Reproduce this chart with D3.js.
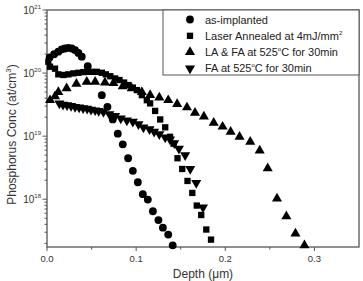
<!DOCTYPE html>
<html>
<head>
<meta charset="utf-8">
<script src="https://cdn.jsdelivr.net/npm/d3@7"></script>
<style>
  body { margin: 0; background: #fff; }
  text { font-family: Arial, "Liberation Sans", sans-serif; }
</style>
</head>
<body>
<script>
// depth in um, concentration as log10(at/cm3)
var asImplanted = [
  [0.003, 20.25], [0.008, 20.3], [0.0127, 20.34], [0.0165, 20.376], [0.0202, 20.39],
  [0.024, 20.40], [0.0278, 20.39], [0.0315, 20.365], [0.0352, 20.32], [0.039, 20.26],
  [0.0457, 20.11], [0.0615, 19.65], [0.0678, 19.465], [0.0738, 19.265], [0.0794, 19.04],
  [0.085, 18.87], [0.091, 18.65], [0.0963, 18.45], [0.1019, 18.27], [0.1075, 18.08],
  [0.1131, 17.995], [0.1188, 17.81], [0.125, 17.67], [0.13, 17.55], [0.136, 17.44],
  [0.141, 17.27]
];
var laserAnnealed = [
  [0.0015, 20.18], [0.0034, 20.1], [0.009, 20.07], [0.0127, 19.98], [0.0184, 19.97],
  [0.024, 19.98], [0.0296, 19.995], [0.0352, 20.005], [0.0408, 20.016], [0.0453, 20.02],
  [0.05, 20.02], [0.0558, 20.02], [0.0615, 20.005], [0.066, 19.98], [0.071, 19.95],
  [0.0764, 19.915], [0.0813, 19.89], [0.0865, 19.85], [0.0914, 19.81], [0.0963, 19.77],
  [0.1008, 19.73], [0.1064, 19.65], [0.112, 19.57], [0.1157, 19.52], [0.1213, 19.40],
  [0.127, 19.265], [0.1326, 19.14], [0.138, 18.99], [0.142, 18.88], [0.1464, 18.65],
  [0.1517, 18.48], [0.1576, 18.29], [0.163, 18.10], [0.168, 17.90], [0.173, 17.75],
  [0.1787, 17.52], [0.184, 17.36]
];
var laFa = [
  [0.0034, 19.57], [0.009, 19.63], [0.0127, 19.70], [0.022, 19.76], [0.033, 19.83],
  [0.0446, 19.86], [0.054, 19.86], [0.065, 19.85], [0.0745, 19.84], [0.085, 19.79],
  [0.095, 19.76], [0.1064, 19.70], [0.1157, 19.65], [0.126, 19.61], [0.136, 19.57],
  [0.146, 19.51], [0.157, 19.455], [0.166, 19.37], [0.176, 19.31], [0.187, 19.21],
  [0.197, 19.15], [0.206, 19.07], [0.216, 18.99], [0.228, 18.91], [0.2386, 18.77],
  [0.2476, 18.49], [0.258, 18.01], [0.2685, 17.73], [0.2787, 17.455], [0.2888, 17.27]
];
var furnaceAnnealed = [
  [0.0139, 19.52], [0.018, 19.50], [0.0225, 19.49], [0.027, 19.48], [0.0315, 19.465],
  [0.036, 19.455], [0.0405, 19.445], [0.045, 19.435], [0.0494, 19.42], [0.054, 19.41],
  [0.058, 19.40], [0.0633, 19.385], [0.07, 19.35], [0.0764, 19.32], [0.0828, 19.28],
  [0.0896, 19.25], [0.0963, 19.23], [0.1026, 19.19], [0.1082, 19.14], [0.115, 19.11],
  [0.1202, 19.07], [0.126, 19.03], [0.1326, 18.98], [0.138, 18.95], [0.1427, 18.89],
  [0.148, 18.80], [0.155, 18.70], [0.1607, 18.48], [0.1674, 18.26], [0.175, 17.87]
];
var xTicks = [0.0, 0.1, 0.2, 0.3];
var xMinor = [0.05, 0.15, 0.25];
var yDecades = [18, 19, 20, 21];
var legendNames = ["as-implanted", "Laser Annealed at 4mJ/mm", "LA & FA at 525", "FA at 525"];

drawChart();

function drawChart(){
  var width = 363, height = 281;
  var mLeft = 47, mRight = 359, mTop = 10, mBottom = 247;

  var svg = d3.select("body").append("svg")
      .attr("width", width)
      .attr("height", height);

  var x = d3.scaleLinear().domain([0, 0.35]).range([mLeft, mRight]);
  var y = d3.scaleLog().domain([1.75e17, 1e21]).range([mBottom, mTop]);

  // frame
  svg.append("rect")
      .attr("x", mLeft).attr("y", mTop)
      .attr("width", mRight - mLeft).attr("height", mBottom - mTop)
      .attr("fill", "none").attr("stroke", "#555").attr("stroke-width", 1.3);

  // x axis
  var xAxis = svg.append("g").attr("transform", "translate(0," + mBottom + ")");
  xAxis.selectAll(".maj").data(xTicks).enter().append("line")
      .attr("x1", d => x(d)).attr("x2", d => x(d))
      .attr("y1", 0).attr("y2", 4)
      .attr("stroke", "#555");
  xAxis.selectAll(".mnr").data(xMinor).enter().append("line")
      .attr("x1", d => x(d)).attr("x2", d => x(d))
      .attr("y1", 0).attr("y2", 2.5)
      .attr("stroke", "#555");
  xAxis.selectAll("text").data(xTicks).enter().append("text")
      .attr("x", d => x(d)).attr("y", 15)
      .attr("text-anchor", "middle")
      .attr("font-size", 9.5).attr("fill", "#333")
      .text(d => d3.format(".1f")(d));

  // y axis
  var yAxis = svg.append("g");
  var minors = [];
  yDecades.forEach(function(e){
    for (var m = 2; m < 10; m++) minors.push(m * Math.pow(10, e - 1));
  });
  minors = minors.filter(v => v >= y.domain()[0]);
  yAxis.selectAll(".mnr").data(minors).enter().append("line")
      .attr("x1", mLeft - 2.5).attr("x2", mLeft)
      .attr("y1", d => y(d)).attr("y2", d => y(d))
      .attr("stroke", "#555");
  yAxis.selectAll(".maj").data(yDecades).enter().append("line")
      .attr("x1", mLeft - 4.5).attr("x2", mLeft)
      .attr("y1", d => y(Math.pow(10, d))).attr("y2", d => y(Math.pow(10, d)))
      .attr("stroke", "#555");
  var yl = yAxis.selectAll("text").data(yDecades).enter().append("text")
      .attr("x", mLeft - 6).attr("y", d => y(Math.pow(10, d)) + 3.5)
      .attr("text-anchor", "end")
      .attr("font-size", 10).attr("fill", "#333");
  yl.append("tspan").text("10");
  yl.append("tspan").attr("dy", -4.5).attr("font-size", 6).text(d => d);

  // axis titles
  svg.append("text")
      .attr("x", (mLeft + mRight) / 2).attr("y", 278)
      .attr("text-anchor", "middle")
      .attr("font-size", 12).attr("fill", "#333")
      .text("Depth (\u03bcm)");
  var yt = svg.append("text")
      .attr("transform", "translate(16," + ((mTop + mBottom) / 2 + 6) + ") rotate(-90)")
      .attr("text-anchor", "middle")
      .attr("font-size", 12).attr("fill", "#333");
  yt.append("tspan").text("Phosphorus Conc (at/cm");
  yt.append("tspan").attr("dy", -5).attr("font-size", 8).text("3");
  yt.append("tspan").attr("dy", 5).text(")");

  // markers
  var shapes = [
    d3.symbol().type(d3.symbolCircle).size(48),
    d3.symbol().type(d3.symbolSquare).size(40),
    d3.symbol().type(d3.symbolTriangle).size(44),
    d3.symbol().type(d3.symbolTriangle).size(44)
  ];
  var rotations = [0, 0, 0, 180];
  var series = [asImplanted, laserAnnealed, laFa, furnaceAnnealed];

  series.forEach(function(s, i){
    svg.append("g").selectAll("path").data(s).enter().append("path")
        .attr("d", shapes[i])
        .attr("transform", d => "translate(" + x(d[0]) + "," + y(Math.pow(10, d[1])) + ") rotate(" + rotations[i] + ")")
        .attr("fill", "#000");
  });

  // legend
  var lg = svg.append("g");
  lg.append("rect")
      .attr("x", 163).attr("y", mTop)
      .attr("width", mRight - 163).attr("height", 65)
      .attr("fill", "#fff").attr("stroke", "#555").attr("stroke-width", 1);
  legendNames.forEach(function(name, i){
    var ly = 19.5 + i * 16.3;
    lg.append("path")
        .attr("d", shapes[i])
        .attr("transform", "translate(190," + ly + ") rotate(" + rotations[i] + ")")
        .attr("fill", "#000");
    var t = lg.append("text")
        .attr("x", 205).attr("y", ly + 4)
        .attr("font-size", 11).attr("fill", "#222");
    t.append("tspan").text(name);
    if (i == 1) {
      t.append("tspan").attr("dy", -5).attr("font-size", 6).text("2");
    } else if (i >= 2) {
      t.append("tspan").attr("dy", -5).attr("font-size", 6).text("o");
      t.append("tspan").attr("dy", 5).text("C for 30min");
    }
  });
}
</script>
</body>
</html>
